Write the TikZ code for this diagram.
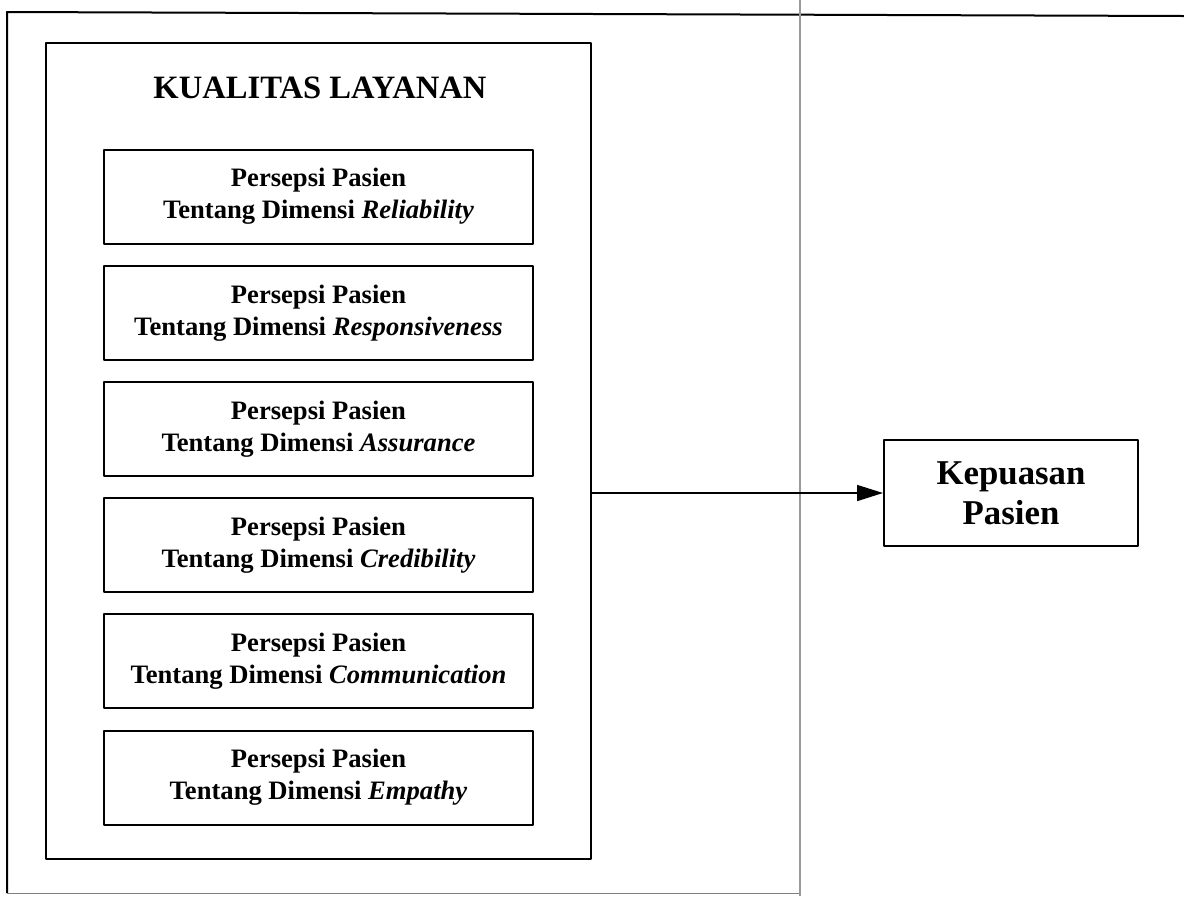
\documentclass[tikz,border=0pt]{standalone}
\usepackage{fontspec}
\setmainfont{Liberation Serif}
\usetikzlibrary{positioning,arrows.meta}
\begin{document}
\begin{tikzpicture}[x=0.5pt,y=-0.5pt,line join=round,
  dimbox/.style={draw,line width=1pt,minimum width=214.5pt,minimum height=47pt,inner sep=0pt,align=center,font=\bfseries\fontsize{13.3}{16}\selectfont},
  outbox/.style={draw,line width=1pt,minimum width=127pt,minimum height=53pt,inner sep=0pt,align=center,font=\bfseries\fontsize{17.4}{20}\selectfont}]
  \useasboundingbox (0,0) rectangle (1184,896);
  % frame of the page
  \draw[line width=1pt] (1184,16) -- (7,12) -- (7,893);
  \draw[gray,line width=0.5pt] (7,893) -- (800,893);
  \draw[gray!80,line width=0.8pt] (800,0) -- (800,896);
  % variable X
  \node[draw,line width=1.4pt,minimum width=272.5pt,minimum height=408pt] (kualitas) at (318.5,451) {};
  \node[font=\bfseries\fontsize{16.3}{19}\selectfont] (judul) at (320,88) {KUALITAS LAYANAN};
  \foreach \dim [count=\i from 0] in {Reliability,Responsiveness,Assurance,Credibility,Communication,Empathy}
    \node[dimbox] (dim\i) at (318.5,196.5+116.2*\i) {Persepsi Pasien\\Tentang Dimensi \textit{\dim}};
  % variable Y
  \node[outbox] (kepuasan) at (1011,493) {Kepuasan\\Pasien};
  \draw[line width=0.8pt,-{Triangle[length=13pt,width=8pt]}] (kualitas.east |- kepuasan.west) -- (kepuasan.west);
\end{tikzpicture}
\end{document}
